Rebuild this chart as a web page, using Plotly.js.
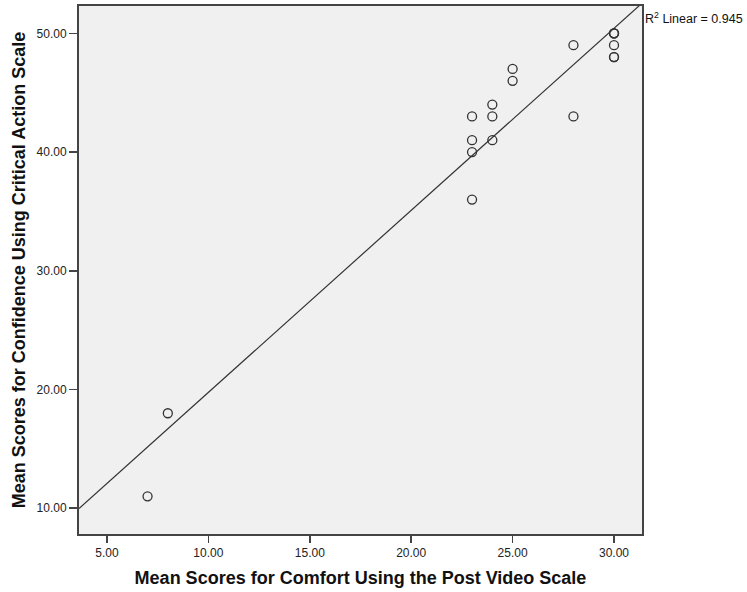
<!DOCTYPE html>
<html>
<head>
<meta charset="utf-8">
<script src="https://cdn.plot.ly/plotly-3.0.1.min.js"></script>
<style>html,body{margin:0;padding:0;background:#fff;}#chart{width:747px;height:592px;}</style>
</head>
<body>
<div id="chart"></div>
<script>
// Data (duplicates represent overlapping points)
const comfortScores = [7, 8, 23, 23, 23, 23, 24, 24, 24, 25, 25, 28, 28, 30, 30, 30, 30, 30, 30];
const confidenceScores = [11, 18, 36, 40, 41, 43, 41, 43, 44, 46, 47, 43, 49, 48, 48, 49, 50, 50, 50];
const rSquaredLabel = "0.945";
const xRange = [3.62, 31.38];
const yRange = [7.83, 52.3];

// Ordinary least squares fit from the data
const n = comfortScores.length;
const mx = comfortScores.reduce((a, b) => a + b, 0) / n;
const my = confidenceScores.reduce((a, b) => a + b, 0) / n;
let sxy = 0, sxx = 0;
for (let i = 0; i < n; i++) {
  sxy += (comfortScores[i] - mx) * (confidenceScores[i] - my);
  sxx += (comfortScores[i] - mx) ** 2;
}
const slope = sxy / sxx;
const intercept = my - slope * mx;
const fitX = [xRange[0], xRange[1]];
const fitY = fitX.map(x => intercept + slope * x);

const axisColor = '#444444';
const tickFont = {family: 'Liberation Sans, Arial, sans-serif', size: 12, color: '#222'};
const titleFont = {family: 'Liberation Sans, Arial, sans-serif', size: 18, color: '#111', weight: 'bold'};

const traces = [
  {
    x: fitX, y: fitY, mode: 'lines', type: 'scatter',
    line: {color: '#333333', width: 1.2}, hoverinfo: 'skip', showlegend: false
  },
  {
    x: comfortScores, y: confidenceScores, mode: 'markers', type: 'scatter',
    marker: {symbol: 'circle-open', size: 9, color: '#333333', line: {width: 1.3, color: '#333333'}},
    showlegend: false, cliponaxis: false
  }
];

const layout = {
  width: 747, height: 592,
  margin: {l: 79, r: 105, t: 6, b: 58},
  paper_bgcolor: '#ffffff',
  plot_bgcolor: '#f0f0f0',
  showlegend: false,
  xaxis: {
    range: xRange, showgrid: false, zeroline: false,
    tickmode: 'array', tickvals: [5, 10, 15, 20, 25, 30], tickformat: '.2f',
    ticks: 'outside', ticklen: 7, tickwidth: 1.5, tickcolor: axisColor,
    showline: true, linecolor: axisColor, linewidth: 2, mirror: true,
    tickfont: tickFont,
    title: {text: 'Mean Scores for Comfort Using the Post Video Scale', font: titleFont, standoff: 12}
  },
  yaxis: {
    range: yRange, showgrid: false, zeroline: false,
    tickmode: 'array', tickvals: [10, 20, 30, 40, 50], tickformat: '.2f',
    ticks: 'outside', ticklen: 8, tickwidth: 1.5, tickcolor: axisColor,
    showline: true, linecolor: axisColor, linewidth: 2, mirror: true,
    tickfont: tickFont,
    title: {text: 'Mean Scores for Confidence Using Critical Action Scale', font: titleFont, standoff: 6}
  },
  annotations: [{
    xref: 'paper', yref: 'paper', x: 1.002, y: 0.978,
    xanchor: 'left', yanchor: 'middle', showarrow: false,
    text: 'R<sup>2</sup> Linear = ' + rSquaredLabel,
    font: {family: 'Liberation Sans, Arial, sans-serif', size: 12.5, color: '#111'}
  }]
};

Plotly.newPlot('chart', traces, layout, {displayModeBar: false, staticPlot: true});
</script>
</body>
</html>
